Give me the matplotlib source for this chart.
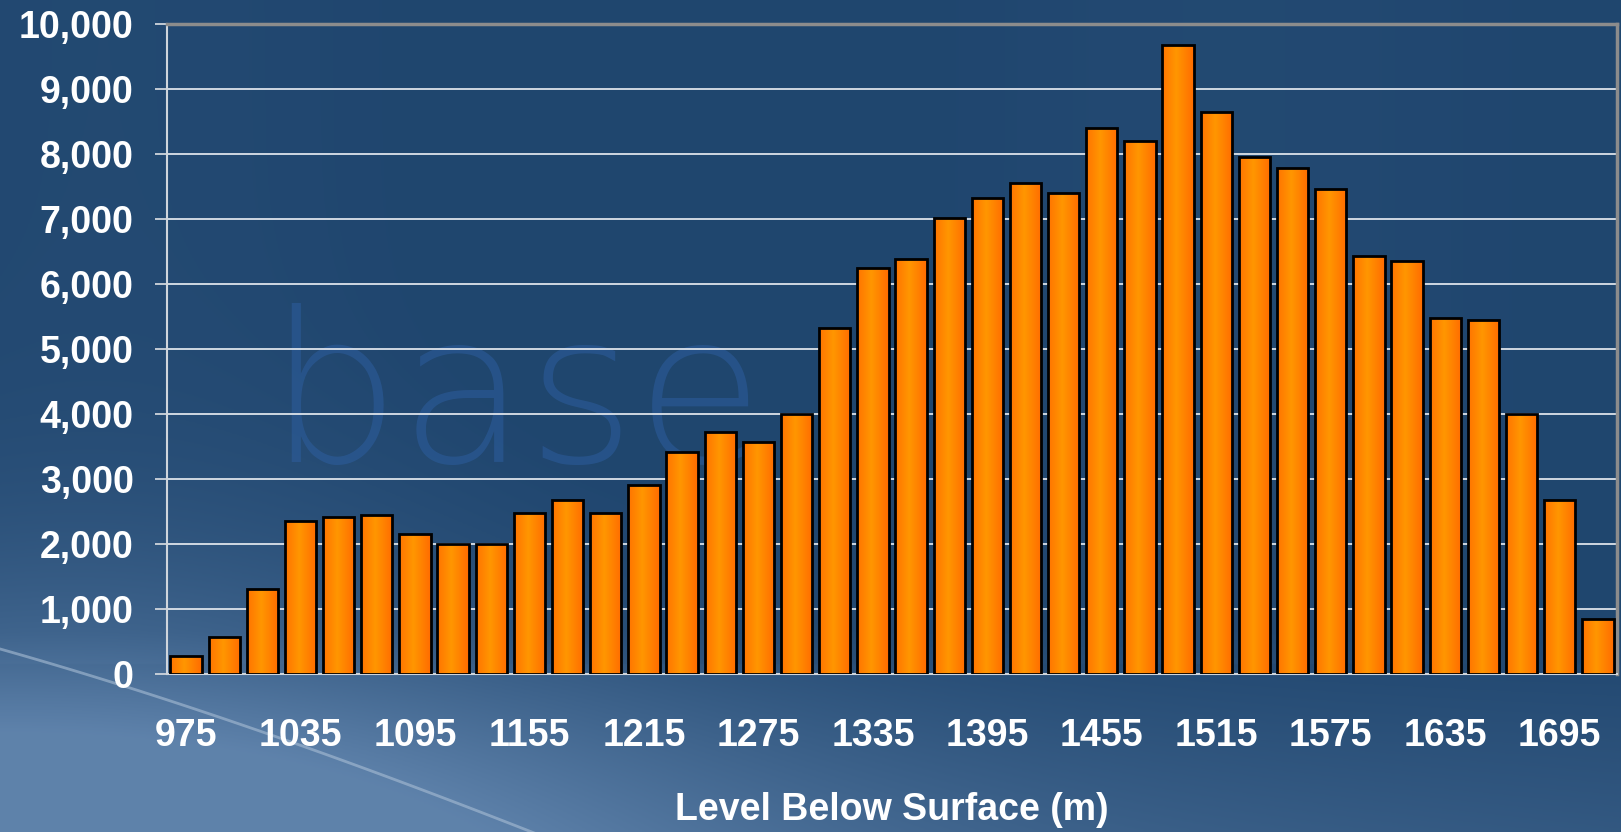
import numpy as np
import matplotlib
matplotlib.use("Agg")
import matplotlib.pyplot as plt
from matplotlib.ticker import FuncFormatter, MultipleLocator

# level below surface (m), one bar every 20 m
levels = list(range(975, 1716, 20))
tonnes = [280, 570, 1300, 2350, 2420, 2450, 2150, 2000, 2000, 2480,
          2670, 2480, 2900, 3420, 3730, 3570, 4000, 5320, 6250, 6380,
          7020, 7330, 7560, 7400, 8400, 8200, 9680, 8650, 7950, 7780,
          7470, 6430, 6350, 5480, 5450, 4000, 2670, 850]
tick_every = 3

plt.rcParams['font.family'] = ['Liberation Sans', 'DejaVu Sans']

fig = plt.figure(figsize=(16.21, 8.32), dpi=100)

# background: dark blue slide, lighter towards the bottom left
bg = fig.add_axes([0, 0, 1, 1], zorder=0)
h, w = 416, 810
yy, xx = np.mgrid[0:1:h * 1j, 0:1:w * 1j]
dark = np.array([0.125, 0.275, 0.435])
light = np.array([0.37, 0.51, 0.67])
blob = np.exp(-(((xx - 0.02) / 0.40) ** 2 + ((yy - 1.0) / 0.30) ** 2))
band = np.clip((yy - 0.76) / 0.24, 0, 1) * (0.55 - 0.25 * xx)
stripe = 0.05 * np.sin(xx * 9.0 + 1.0) * (yy < 0.8)
mix = np.clip(blob * 0.85 + band + stripe, 0, 1)[..., None]
img = dark * (1 - mix) + light * mix
bg.imshow(img, extent=[0, 1, 0, 1], aspect='auto', origin='upper')
arc_x = np.linspace(0, 0.34, 60)
arc_y = 0.22 - 0.55 * arc_x - 0.45 * arc_x ** 2 + 0.25 * arc_x ** 3
bg.plot(arc_x, arc_y, color='#a9bed5', lw=2, alpha=0.6)
bg.text(0.165, 0.445, "base", fontsize=150, color='#2f62a8', alpha=0.45,
        va='baseline', family='DejaVu Sans', fontweight='light')
bg.set_xlim(0, 1)
bg.set_ylim(0, 1)
bg.axis('off')

ax = fig.add_axes([0.103, 0.19, 0.8945, 0.781], zorder=1)
ax.set_facecolor('none')

x = np.arange(len(tonnes))
bars = ax.bar(x, tonnes, width=0.82, color='#ff8c00', edgecolor='black',
              linewidth=2, zorder=3)

# orange shading across each bar
grad = np.linspace(0, 1, 64)
shade = 1 - np.abs(grad - 0.45) * 1.6
cols = np.zeros((1, 64, 3))
cols[0, :, 0] = 1.0
cols[0, :, 1] = 0.40 + 0.19 * np.clip(shade, 0, 1)
for b in bars:
    bx, by = b.get_x(), b.get_y()
    im = ax.imshow(cols, extent=[bx, bx + b.get_width(), by, by + b.get_height()],
                   aspect='auto', zorder=3.5)
    im.set_clip_path(b)
    b.set_facecolor('none')
    b.set_zorder(4)

ax.set_xlim(-0.5, len(tonnes) - 0.5)
ax.set_ylim(0, 10000)
ax.yaxis.set_major_locator(MultipleLocator(1000))
ax.yaxis.set_major_formatter(FuncFormatter(lambda v, p: f"{int(v):,}"))
ax.set_xticks(x[::tick_every])
ax.set_xticklabels([str(v) for v in levels[::tick_every]])

ax.grid(axis='y', color='#dde3ea', linewidth=1.3, zorder=1)
ax.set_axisbelow(True)

for s in ['top', 'right']:
    ax.spines[s].set_color('#8c8c8c')
    ax.spines[s].set_linewidth(2.5)
ax.spines['left'].set_color('#cfd5dc')
ax.spines['left'].set_linewidth(1.5)
ax.spines['bottom'].set_color('#cfd5dc')
ax.spines['bottom'].set_linewidth(1.5)

ax.tick_params(axis='y', length=9, width=1.3, color='#cfd5dc', pad=15,
               labelsize=27, labelcolor='white')
ax.tick_params(axis='x', length=0, pad=32, labelsize=27, labelcolor='white')
for lab in ax.get_xticklabels() + ax.get_yticklabels():
    lab.set_fontweight('bold')

ax.set_xlabel("Level Below Surface (m)", fontsize=27, fontweight='bold',
              color='white', labelpad=27)

fig.savefig("out.png", dpi=100)
